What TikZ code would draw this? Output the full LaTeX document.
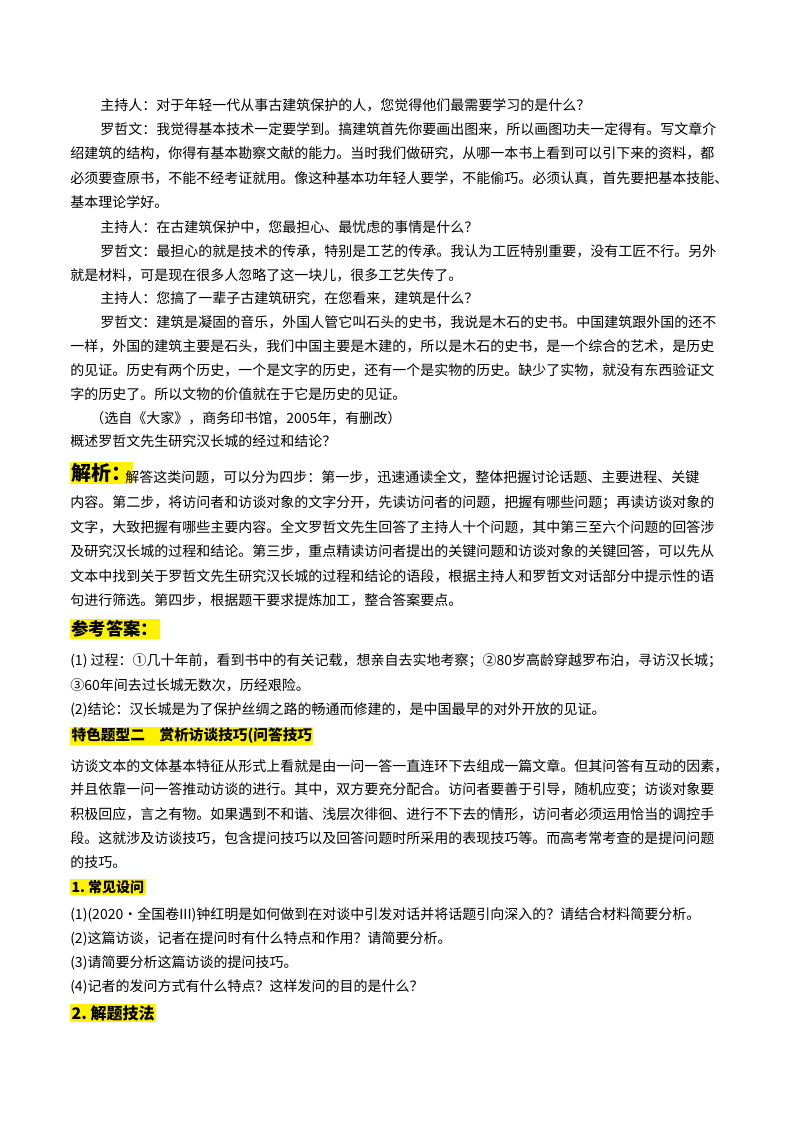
\documentclass[tikz,border=0pt]{standalone}
\usepackage{fontspec}
\setmainfont{Noto Sans CJK SC}
\newfontfamily\cjk{Noto Sans CJK SC}
\usetikzlibrary{positioning}
\tikzset{
  txt/.style={anchor=west, inner sep=0pt, font=\cjk\fontsize{10.5}{12}\selectfont},
  head/.style={anchor=west, inner sep=1pt, fill=yellow, font=\cjk\bfseries\fontsize{#1}{#1}\selectfont},
}
\begin{document}
\begin{tikzpicture}[x=0.75pt,y=-0.75pt]
      \useasboundingbox (0,0) rectangle (800,1132);
      % interview
      \node [txt] (q1) at (100,105) {主持人：对于年轻一代从事古建筑保护的人，您觉得他们最需要学习的是什么？};
      \node [txt] (a1) at (100,129) {罗哲文：我觉得基本技术一定要学到。搞建筑首先你要画出图来，所以画图功夫一定得有。写文章介};
      \node [txt] (a1b) at (70,153) {绍建筑的结构，你得有基本勘察文献的能力。当时我们做研究，从哪一本书上看到可以引下来的资料，都};
      \node [txt] (a1c) at (70,178) {必须要查原书，不能不经考证就用。像这种基本功年轻人要学，不能偷巧。必须认真，首先要把基本技能、};
      \node [txt] (a1d) at (70,202) {基本理论学好。};
      \node [txt] (q2) at (100,227) {主持人：在古建筑保护中，您最担心、最忧虑的事情是什么？};
      \node [txt] (a2) at (100,251) {罗哲文：最担心的就是技术的传承，特别是工艺的传承。我认为工匠特别重要，没有工匠不行。另外};
      \node [txt] (a2b) at (70,275) {就是材料，可是现在很多人忽略了这一块儿，很多工艺失传了。};
      \node [txt] (q3) at (100,298) {主持人：您搞了一辈子古建筑研究，在您看来，建筑是什么？};
      \node [txt] (a3) at (100,322) {罗哲文：建筑是凝固的音乐，外国人管它叫石头的史书，我说是木石的史书。中国建筑跟外国的还不};
      \node [txt] (a3b) at (70,346) {一样，外国的建筑主要是石头，我们中国主要是木建的，所以是木石的史书，是一个综合的艺术，是历史};
      \node [txt] (a3c) at (70,370) {的见证。历史有两个历史，一个是文字的历史，还有一个是实物的历史。缺少了实物，就没有东西验证文};
      \node [txt] (a3d) at (70,394) {字的历史了。所以文物的价值就在于它是历史的见证。};
      \node [txt] (src) at (90,418) {（选自《大家》，商务印书馆，2005年，有删改）};
      \node [txt] (ask) at (70,441) {概述罗哲文先生研究汉长城的经过和结论？};
      % analysis
      \node [head=15] (jx) at (70,473) {解析：};
      \node [txt] (jx1) at (125,477) {解答这类问题，可以分为四步：第一步，迅速通读全文，整体把握讨论话题、主要进程、关键};
      \node [txt] (jx2) at (70,503) {内容。第二步，将访问者和访谈对象的文字分开，先读访问者的问题，把握有哪些问题；再读访谈对象的};
      \node [txt] (jx3) at (70,527) {文字，大致把握有哪些主要内容。全文罗哲文先生回答了主持人十个问题，其中第三至六个问题的回答涉};
      \node [txt] (jx4) at (70,551) {及研究汉长城的过程和结论。第三步，重点精读访问者提出的关键问题和访谈对象的关键回答，可以先从};
      \node [txt] (jx5) at (70,576) {文本中找到关于罗哲文先生研究汉长城的过程和结论的语段，根据主持人和罗哲文对话部分中提示性的语};
      \node [txt] (jx6) at (70,600) {句进行筛选。第四步，根据题干要求提炼加工，整合答案要点。};
      % answer
      \node [head=13] (ck) at (70,629) {参考答案：};
      \node [txt] (ck1) at (70,661) {(1) 过程：①几十年前，看到书中的有关记载，想亲自去实地考察；②80岁高龄穿越罗布泊，寻访汉长城；};
      \node [txt] (ck2) at (70,685) {③60年间去过长城无数次，历经艰险。};
      \node [txt] (ck3) at (70,710) {(2)结论：汉长城是为了保护丝绸之路的畅通而修建的，是中国最早的对外开放的见证。};
      % type two
      \node [head=11] (ts) at (70,736) {特色题型二\quad 赏析访谈技巧(问答技巧};
      \node [txt] (ts1) at (70,766) {访谈文本的文体基本特征从形式上看就是由一问一答一直连环下去组成一篇文章。但其问答有互动的因素，};
      \node [txt] (ts2) at (70,790) {并且依靠一问一答推动访谈的进行。其中，双方要充分配合。访问者要善于引导，随机应变；访谈对象要};
      \node [txt] (ts3) at (70,814) {积极回应，言之有物。如果遇到不和谐、浅层次徘徊、进行不下去的情形，访问者必须运用恰当的调控手};
      \node [txt] (ts4) at (70,838) {段。这就涉及访谈技巧，包含提问技巧以及回答问题时所采用的表现技巧等。而高考常考查的是提问问题};
      \node [txt] (ts5) at (70,862) {的技巧。};
      \node [head=10.5] (sw) at (70,887) {1.\ 常见设问};
      \node [txt] (sw1) at (70,915) {(1)(2020·全国卷III)钟红明是如何做到在对谈中引发对话并将话题引向深入的？请结合材料简要分析。};
      \node [txt] (sw2) at (70,939) {(2)这篇访谈，记者在提问时有什么特点和作用？请简要分析。};
      \node [txt] (sw3) at (70,963) {(3)请简要分析这篇访谈的提问技巧。};
      \node [txt] (sw4) at (70,987) {(4)记者的发问方式有什么特点？这样发问的目的是什么？};
      \node [head=12] (jf) at (70,1013) {2.\ 解题技法};
\end{tikzpicture}
\end{document}
